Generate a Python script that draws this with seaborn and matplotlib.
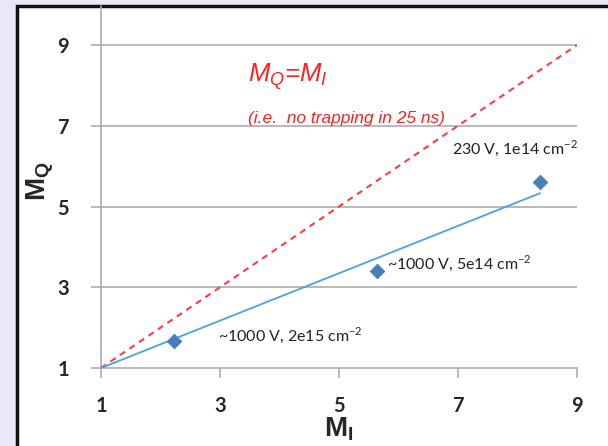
import matplotlib
matplotlib.use("Agg")
import matplotlib.pyplot as plt
from matplotlib.patches import Rectangle
import seaborn as sns
import pandas as pd

# ---- data ----
mi_points = [2.23, 5.64, 8.38]
mq_points = [1.67, 3.40, 5.60]
point_labels = ["~1000 V, 2e15 cm$^{-2}$", "~1000 V, 5e14 cm$^{-2}$", "230 V, 1e14 cm$^{-2}$"]
label_x = [2.97, 5.81, 6.90]
label_y = [1.82, 3.60, 6.45]
trend_x = [1.0, 8.38]
trend_y = [1.0, 5.33]
ident_x = [1.0, 9.0]
ident_y = [1.0, 9.0]
ticks = [1, 3, 5, 7, 9]

sns.set_theme(style="white")
plt.rcParams['font.family'] = ['Lato', 'DejaVu Sans']
plt.rcParams['mathtext.fontset'] = 'custom'
plt.rcParams['mathtext.rm'] = 'Lato'
plt.rcParams['mathtext.it'] = 'Liberation Sans:italic'
plt.rcParams['mathtext.bf'] = 'Liberation Sans:bold'

W, H = 608, 446
fig = plt.figure(figsize=(W / 100, H / 100), dpi=100)
fig.patch.set_facecolor('#E8E8F8')

bg = fig.add_axes([0, 0, 1, 1], zorder=0)
bg.set_xlim(0, W)
bg.set_ylim(H, 0)
bg.axis('off')
bg.add_patch(Rectangle((17, 6), W, H, facecolor='white', edgecolor='#111111', linewidth=2.5))

ax = fig.add_axes([101 / W, 78 / H, (577 - 101) / W, (440 - 78) / H], zorder=2)
ax.set_facecolor('none')

pts = pd.DataFrame({"MI": mi_points, "MQ": mq_points})
trend = pd.DataFrame({"x": trend_x, "y": trend_y})
ident = pd.DataFrame({"x": ident_x, "y": ident_y})

for t in ticks[1:]:
    ax.plot([1, 9], [t, t], color='#A6A6A6', lw=1.1, zorder=1)

sns.lineplot(data=ident, x="x", y="y", ax=ax, color='#FF3B3B', lw=1.5,
             linestyle=(0, (3, 2.5)), zorder=3)
sns.lineplot(data=trend, x="x", y="y", ax=ax, color='#4BA3DA', lw=1.3, zorder=3)
sns.scatterplot(data=pts, x="MI", y="MQ", ax=ax, marker='D', s=55, color='#4A7EBB',
                edgecolor='#4A7EBB', zorder=4)

for lx, ly, lab in zip(label_x, label_y, point_labels):
    ax.text(lx, ly, lab, fontsize=11.5, color='#222222', va='center', ha='left',
            family=['Lato', 'DejaVu Sans'])

ax.text(3.47, 8.21, r"$M_Q$=$M_I$", color='#FF2020', fontsize=18.5, va='center', ha='left',
        family=['Liberation Sans'], style='italic')
ax.text(3.47, 7.19, "(i.e.  no trapping in 25 ns)", color='#FF2020', fontsize=12.5,
        va='center', ha='left', family=['Liberation Sans'], style='italic')

ax.set_xlim(1, 9)
ax.set_ylim(1, 9.966)
ax.set_xticks(ticks)
ax.set_yticks(ticks)
ax.set_xticklabels([str(t) for t in ticks], fontsize=14.5, fontweight='bold')
ax.set_yticklabels([str(t) for t in ticks], fontsize=14.5, fontweight='bold')
ax.tick_params(axis='x', direction='out', length=7, width=1.1, color='#A6A6A6', pad=13,
               bottom=True)
ax.tick_params(axis='y', direction='out', length=7, width=1.1, color='#A6A6A6', pad=16,
               left=True)
for s in ['top', 'right']:
    ax.spines[s].set_visible(False)
for s in ['left', 'bottom']:
    ax.spines[s].set_color('#A6A6A6')
    ax.spines[s].set_linewidth(1.1)

ax.set_xlabel(r"$\mathbf{M_I}$", fontsize=20, labelpad=0)
ax.set_ylabel(r"$\mathbf{M_Q}$", fontsize=20)
ax.yaxis.set_label_coords(-0.095, 0.515)

fig.savefig("out.png", dpi=100, facecolor=fig.get_facecolor())
